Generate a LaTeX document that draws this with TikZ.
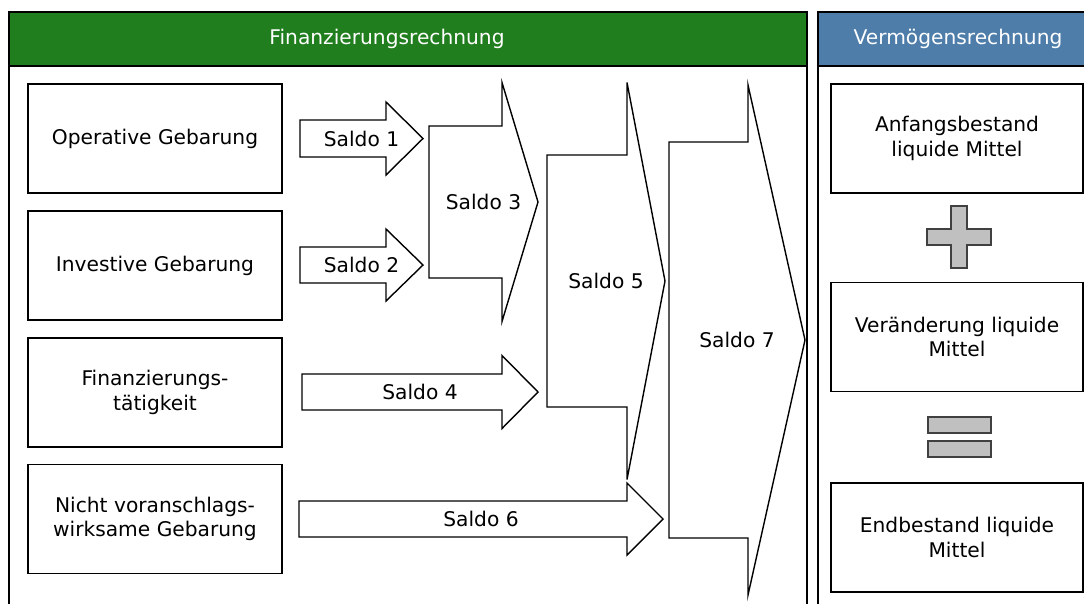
\documentclass[tikz,border=0pt]{standalone}
\usepackage{fontspec}
\setmainfont{DejaVu Sans}
\usetikzlibrary{positioning}
\definecolor{finGreen}{RGB}{33,126,30}
\definecolor{vermBlue}{RGB}{78,125,170}
\definecolor{opGray}{RGB}{192,192,192}
\tikzset{
    frame/.style={
    draw=black,line width=0.8pt
    },
    headtext/.style={
    text=white,font=\fontsize{11.5}{13.8}\selectfont
    },
    item/.style={
    rectangle,draw=black,line width=0.8pt,align=center,inner sep=0pt,
    minimum width=5.08cm,minimum height=2.18cm,font=\fontsize{11.5}{13.8}\selectfont
    },
    ritem/.style={
    item,minimum width=5.04cm
    },
    saldoshape/.style={
    draw=black,fill=white,line width=0.8pt,line join=miter
    },
    saldotext/.style={
    font=\fontsize{11.5}{13.8}\selectfont
    },
    opsign/.style={
    draw=black!75,fill=opGray,line width=0.6pt
    },
}
\newcommand{\saldoarrow}[8]{%
  \draw[saldoshape] (#2,#5-#6) -- (#3,#5-#6) -- (#3,#5-#7) -- (#4,#5)
    -- (#3,#5+#7) -- (#3,#5+#6) -- (#2,#5+#6) -- cycle;
  \node[saldotext] (#1) at ({(#2+#4)/2},#5) {#8};
}

\begin{document}
\begin{tikzpicture}[x=0.02cm, y=-0.02cm]
   \useasboundingbox (0,0) rectangle (1084,603);

   \draw[frame] (9,12) rectangle (807,640);
   \draw[frame,fill=finGreen] (9,12) rectangle (807,66);
   \node[headtext] (fhead) at (387,39) {Finanzierungsrechnung};
   \draw[frame] (818,12) rectangle (1098,640);
   \draw[frame,fill=vermBlue] (818,12) rectangle (1098,66);
   \node[headtext] (vhead) at (958,39) {Vermögensrechnung};

   \node[item] (op) at (155,138.5) {Operative Gebarung};
   \node[item] (inv) at (155,265.5) {Investive Gebarung};
   \node[item] (fin) at (155,392.5) {Finanzierungs-\\tätigkeit};
   \node[item] (nvg) at (155,519) {Nicht voranschlags-\\wirksame Gebarung};

   \saldoarrow{s1}{300}{386}{423}{138.5}{18.5}{36.5}{Saldo 1}
   \saldoarrow{s2}{300}{386}{423}{265}{18}{36}{Saldo 2}
   \saldoarrow{s3}{429}{502}{538}{202}{76}{119.5}{Saldo 3}
   \saldoarrow{s4}{302}{502}{538}{392}{18}{36.5}{Saldo 4}
   \saldoarrow{s5}{547}{627}{665}{281}{126}{198.5}{Saldo 5}
   \saldoarrow{s6}{299}{627}{663}{519}{18}{36}{Saldo 6}
   \saldoarrow{s7}{669}{748}{805}{340}{198}{255}{Saldo 7}

   \node[ritem] (anf) at (957,138.5) {Anfangsbestand\\liquide Mittel};
   \node[ritem] (ver) at (957,337) {Veränderung liquide\\Mittel};
   \node[ritem] (endb) at (957,537.5) {Endbestand liquide\\Mittel};

   \draw[opsign] (951,206) -- (967,206) -- (967,229) -- (991,229) -- (991,245)
     -- (967,245) -- (967,268) -- (951,268) -- (951,245) -- (927,245)
     -- (927,229) -- (951,229) -- cycle;
   \draw[opsign] (928,417) rectangle (991,433);
   \draw[opsign] (928,441) rectangle (991,457);
\end{tikzpicture}
\end{document}
